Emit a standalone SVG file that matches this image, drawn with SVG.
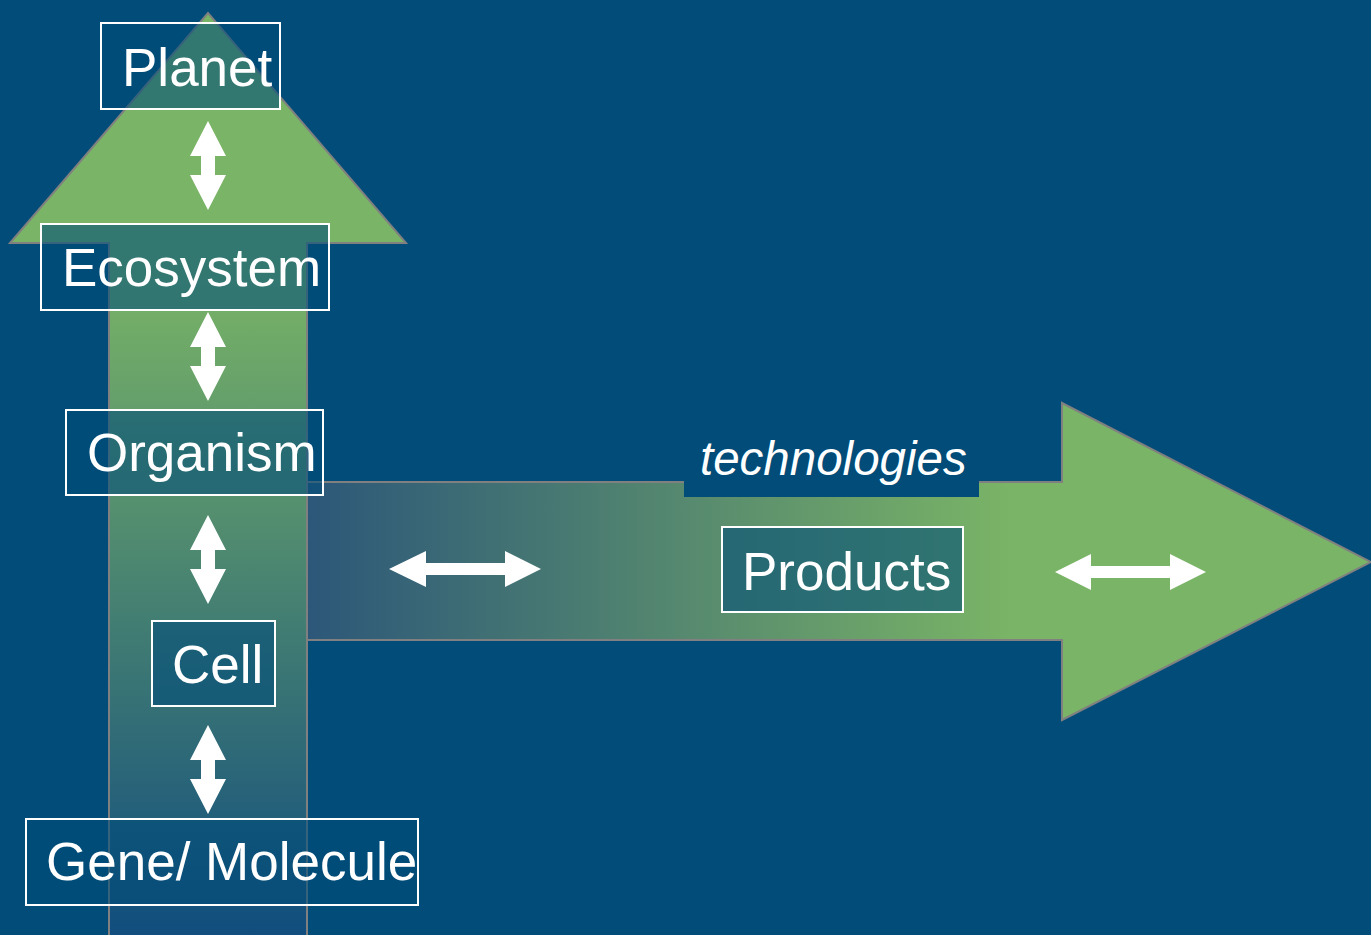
<svg xmlns="http://www.w3.org/2000/svg" width="1371" height="935" viewBox="0 0 1371 935">
  <defs>
    <linearGradient id="gV" gradientUnits="userSpaceOnUse" x1="0" y1="270" x2="0" y2="935">
      <stop offset="0" stop-color="#7AB466"/>
      <stop offset="1" stop-color="#114D7E"/>
    </linearGradient>
    <linearGradient id="gH" gradientUnits="userSpaceOnUse" x1="307" y1="0" x2="1010" y2="0">
      <stop offset="0" stop-color="#2C5779"/>
      <stop offset="1" stop-color="#7AB466"/>
    </linearGradient>
    <style>
      .big { stroke: #808080; stroke-width: 2; }
      .box { fill: #004C78; fill-opacity: 0.58; stroke: #FFFFFF; stroke-width: 2; }
      .lbl { fill: #FFFFFF; font-family: "Liberation Sans", Arial, sans-serif; font-size: 53px; }
      .it { font-style: italic; font-size: 47.5px; }
      .dbl { fill: #FFFFFF; }
    </style>
  </defs>
  <rect x="0" y="0" width="1371" height="935" fill="#014C78"/>

  <g id="horizontal-arrow">
    <path class="big" fill="url(#gH)" d="M307,482 L1062,482 L1062,403 L1371,562 L1062,720 L1062,640 L307,640 Z"/>
  </g>
  <g id="vertical-arrow">
    <path class="big" fill="url(#gV)" d="M109,936 L109,243 L10,243 L208,13 L406,243 L307,243 L307,936 Z"/>
  </g>

  <g id="technologies">
    <rect x="684" y="430" width="295" height="67" fill="#014C78"/>
    <text class="lbl it" x="700" y="475">technologies</text>
  </g>

  <g id="connectors">
    <path class="dbl" d="M208,121 L226,156 L215,156 L215,175 L226,175 L208,210 L190,175 L201,175 L201,156 L190,156 Z"/>
    <path class="dbl" d="M208,312 L226,347 L215,347 L215,366 L226,366 L208,401 L190,366 L201,366 L201,347 L190,347 Z"/>
    <path class="dbl" d="M208,515 L226,550 L215,550 L215,569 L226,569 L208,604 L190,569 L201,569 L201,550 L190,550 Z"/>
    <path class="dbl" d="M208,725 L226,760 L215,760 L215,779 L226,779 L208,814 L190,779 L201,779 L201,760 L190,760 Z"/>
    <path class="dbl" d="M389,569 L426,551 L426,563 L505,563 L505,551 L541,569 L505,587 L505,575 L426,575 L426,587 Z"/>
    <path class="dbl" d="M1055,572 L1091,554 L1091,566 L1170,566 L1170,554 L1206,572 L1170,590 L1170,578 L1091,578 L1091,590 Z"/>
  </g>

  <g id="planet">
    <rect class="box" x="101" y="23" width="179" height="86"/>
    <text class="lbl" x="122" y="86">Planet</text>
  </g>
  <g id="ecosystem">
    <rect class="box" x="41" y="224" width="288" height="86"/>
    <text class="lbl" x="62" y="286">Ecosystem</text>
  </g>
  <g id="organism">
    <rect class="box" x="66" y="410" width="257" height="85"/>
    <text class="lbl" x="87" y="471">Organism</text>
  </g>
  <g id="cell">
    <rect class="box" x="152" y="621" width="123" height="85"/>
    <text class="lbl" x="172" y="683">Cell</text>
  </g>
  <g id="gene-molecule">
    <rect class="box" x="26" y="819" width="392" height="86"/>
    <text class="lbl" x="46" y="880">Gene/ Molecule</text>
  </g>
  <g id="products">
    <rect class="box" x="722" y="527" width="241" height="85"/>
    <text class="lbl" x="742" y="590">Products</text>
  </g>
</svg>
